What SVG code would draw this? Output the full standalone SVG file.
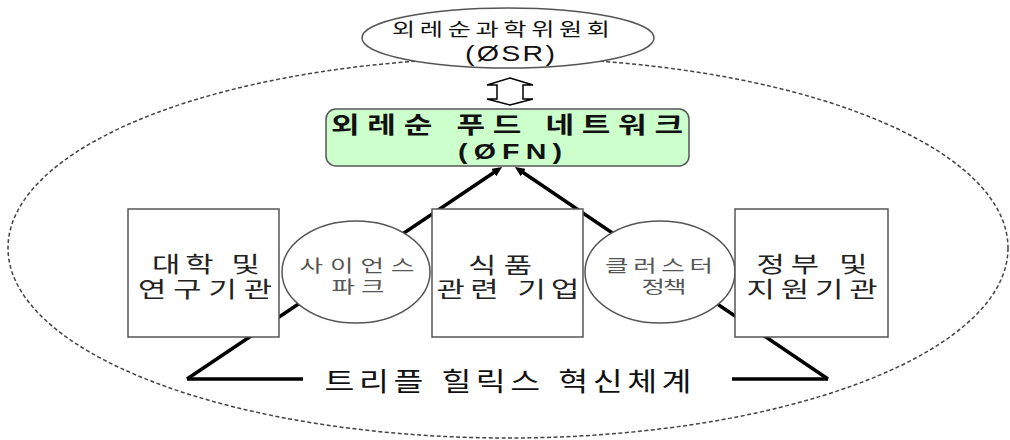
<svg xmlns="http://www.w3.org/2000/svg" width="1010" height="440" viewBox="0 0 1010 440">
<style>
  text { font-family: "Liberation Sans", "Noto Sans CJK KR", sans-serif; text-anchor: middle; fill: #111; }
  .box { fill: #fff; stroke: #555; stroke-width: 1.5; }
  .oval { fill: #fff; stroke: #555; stroke-width: 1.5; }
  .conn { fill: none; stroke: #000; stroke-width: 3.5; }
  .lbl { font-size: 22px; fill: #222; }
  .small { font-size: 17px; fill: #555; }
  .bold { font-weight: bold; }
</style>
<defs>
  <marker id="ah" markerUnits="userSpaceOnUse" markerWidth="10" markerHeight="9" refX="2" refY="4.5" orient="auto">
    <path d="M0,0 L10,4.5 L0,9 z" fill="#000"/>
  </marker>
</defs>
<rect width="1010" height="440" fill="#fff"/>
<g id="boundary">
  <ellipse cx="508" cy="248" rx="500" ry="190" fill="none" stroke="#444" stroke-width="1.5" stroke-dasharray="4 2.5"/>
</g>
<g id="connectors">
  <path class="conn" d="M187,379 L495.4,171.5" marker-end="url(#ah)"/>
  <path class="conn" d="M828,379 L521.6,171.5" marker-end="url(#ah)"/>
  <path class="conn" d="M187,379 L303,379"/>
  <path class="conn" d="M732,379 L828,379"/>
  <path d="M510,78 L533,85 L523,85 L523,99 L533,99 L510,105 L487,99 L497,99 L497,85 L487,85 Z" fill="#fff" stroke="#000" stroke-width="1.5" stroke-linejoin="miter"/>
</g>
<g id="osr">
  <ellipse class="oval" cx="508" cy="38" rx="146" ry="30"/>
  <text transform="translate(501,36) scale(1.4,1)" font-size="18" textLength="155.7" lengthAdjust="spacing">외레순과학위원회</text>
  <text transform="translate(510,61) scale(1.3,1)" font-size="22" textLength="69.2" lengthAdjust="spacing">(ØSR)</text>
</g>
<g id="ofn">
  <rect x="326" y="109" width="363" height="57" rx="10" fill="#ccffcc" stroke="#555" stroke-width="1.5"/>
  <text class="bold" transform="translate(507,133) scale(1.35,1)" font-size="23" textLength="260.7" lengthAdjust="spacing">외레순 푸드 네트워크</text>
  <text class="bold" transform="translate(510,159) scale(1.3,1)" font-size="22" textLength="80" lengthAdjust="spacing">(ØFN)</text>
</g>
<g id="university">
  <rect class="box" x="128" y="209" width="151" height="128"/>
  <text class="lbl" transform="translate(206,272) scale(1.4,1)" textLength="77.1" lengthAdjust="spacing">대학 및</text>
  <text class="lbl" transform="translate(205,297) scale(1.4,1)" textLength="95.7" lengthAdjust="spacing">연구기관</text>
</g>
<g id="sciencepark">
  <ellipse class="oval" cx="356" cy="272" rx="74" ry="51"/>
  <text class="small" transform="translate(357,272) scale(1.5,1)" textLength="76.7" lengthAdjust="spacing">사이언스</text>
  <text class="small" transform="translate(358,293) scale(1.5,1)" textLength="35.3" lengthAdjust="spacing">파크</text>
</g>
<g id="food">
  <rect class="box" x="432" y="209" width="151" height="128"/>
  <text class="lbl" transform="translate(500,273) scale(1.4,1)" textLength="45.7" lengthAdjust="spacing">식품</text>
  <text class="lbl" transform="translate(508,297) scale(1.4,1)" textLength="102.1" lengthAdjust="spacing">관련 기업</text>
</g>
<g id="cluster">
  <ellipse class="oval" cx="660" cy="272" rx="75" ry="51"/>
  <text class="small" transform="translate(659,272) scale(1.5,1)" textLength="72" lengthAdjust="spacing">클러스터</text>
  <text class="small" transform="translate(664,293) scale(1.5,1)" textLength="30" lengthAdjust="spacing">정책</text>
</g>
<g id="government">
  <rect class="box" x="735" y="209" width="153" height="128"/>
  <text class="lbl" transform="translate(812,272) scale(1.4,1)" textLength="79.3" lengthAdjust="spacing">정부 및</text>
  <text class="lbl" transform="translate(812,297) scale(1.4,1)" textLength="93.6" lengthAdjust="spacing">지원기관</text>
</g>
<g id="triple-helix">
  <text transform="translate(508,391) scale(1.25,1)" font-size="26" textLength="293.6" lengthAdjust="spacing">트리플 힐릭스 혁신체계</text>
</g>
</svg>
